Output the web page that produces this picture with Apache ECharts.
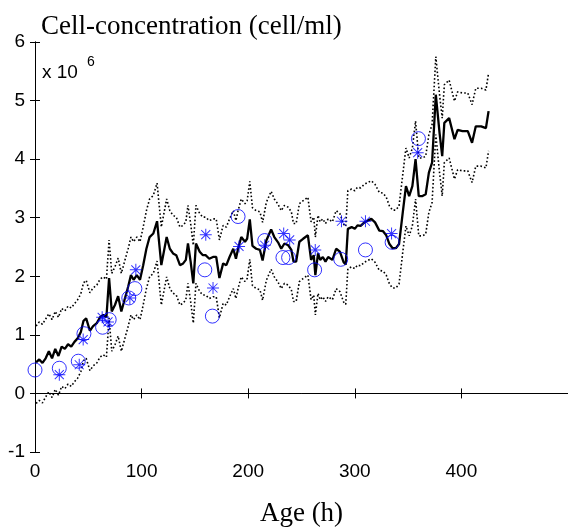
<!DOCTYPE html>
<html>
<head>
<meta charset="utf-8">
<script src="https://cdn.jsdelivr.net/npm/echarts@6/dist/echarts.min.js"></script>
<style>
html,body{margin:0;padding:0;background:#fff;}
#chart{width:568px;height:532px;}
</style>
</head>
<body>
<div id="chart"></div>
<script>
// Age (h) of the model curve samples
const ages = [1,4,7,10,13,16,19,22,25,28,31,34,37,40,43,45.5,48,51.5,54.5,58,61,64,67,69.5,72,75,78,81,84,87.5,90,92.5,95.5,98.5,101.5,104.5,107.5,111,114.5,118.5,123.5,126.5,129.5,132.5,136,139,141.5,143.5,146,148.5,151,154.5,157.5,160,163.5,167,170,173,176.5,179.5,182.5,186,188.5,190.5,193.5,197,199,201.5,204,207.5,211,213.5,217,221.5,224.5,228,231,234,237.5,240.5,242.5,245,248,251.5,256,257.5,259,261.5,263,265.5,267.5,270,272.5,275,279,282.5,286,289.5,291.5,293.5,297,300,302.5,305.5,309,312,315.5,319,323,326.5,329.5,332.5,335.5,338.5,341.5,345,348,351,354,357,360,363.5,366.5,369.5,372.5,376,379.5,382,384,388.5,393.5,396.5,401,406,410,413.5,418.5,423,425.5];
// mean cell concentration (x 10^6 cell/ml)
const meanConc = [0.53,0.58,0.52,0.60,0.72,0.60,0.76,0.64,0.80,0.76,0.84,0.80,0.88,0.94,1.05,1.24,1.28,1.07,1.15,1.20,1.30,1.34,1.30,1.97,1.40,1.51,1.66,1.40,1.60,1.83,2.02,1.94,2.02,1.94,2.19,2.47,2.67,2.73,2.94,2.19,2.67,2.47,2.39,2.36,2.19,2.22,2.28,2.56,2.25,1.88,2.56,2.42,2.36,2.36,2.30,2.33,2.33,1.97,2.22,2.19,2.33,2.47,2.30,2.47,2.67,2.59,2.64,2.97,2.52,2.47,2.45,2.27,2.61,2.80,2.67,2.58,2.47,2.56,2.53,2.45,2.25,2.25,2.59,2.64,2.70,2.67,2.28,2.36,2.02,2.39,2.28,2.33,2.25,2.33,2.28,2.47,2.42,2.24,2.20,2.81,2.84,2.81,2.87,2.86,2.92,2.95,2.98,2.92,2.78,2.77,2.70,2.55,2.48,2.48,2.55,3.09,3.54,3.37,3.54,4.00,3.37,3.37,3.40,3.77,3.94,5.10,4.45,4.05,4.62,4.70,4.34,4.50,4.48,4.48,4.28,4.56,4.56,4.53,4.82];
// upper dotted bound
const upperConc = [1.15,1.22,1.18,1.27,1.36,1.26,1.40,1.30,1.45,1.41,1.49,1.46,1.53,1.60,1.70,1.89,1.93,1.72,1.80,1.85,1.95,1.99,1.95,2.62,2.05,2.16,2.31,2.05,2.25,2.48,2.67,2.59,2.67,2.59,2.84,3.12,3.32,3.38,3.59,2.84,3.32,3.12,3.04,3.01,2.84,2.87,2.93,3.21,2.90,2.53,3.21,3.07,3.01,3.01,2.95,2.98,2.98,2.62,2.87,2.84,2.98,3.12,2.95,3.12,3.32,3.24,3.29,3.62,3.17,3.12,3.10,2.92,3.26,3.45,3.32,3.23,3.12,3.21,3.18,3.10,2.90,2.90,3.24,3.29,3.35,3.32,2.93,3.01,2.67,3.04,2.93,2.98,2.90,2.98,2.93,3.12,3.07,2.89,2.85,3.46,3.49,3.46,3.52,3.51,3.57,3.60,3.63,3.57,3.43,3.42,3.35,3.20,3.13,3.13,3.20,3.74,4.19,4.02,4.19,4.65,4.02,4.02,4.05,4.42,4.59,5.75,5.10,4.70,5.27,5.35,4.99,5.15,5.13,5.13,4.93,5.21,5.21,5.18,5.47];
// lower dotted bound
const lowerConc = [-0.17,-0.12,-0.16,-0.06,0.03,-0.07,0.07,-0.03,0.12,0.08,0.16,0.12,0.20,0.26,0.37,0.56,0.60,0.39,0.47,0.52,0.62,0.66,0.62,1.29,0.72,0.83,0.98,0.72,0.92,1.15,1.34,1.26,1.34,1.26,1.51,1.79,1.99,2.05,2.26,1.51,1.99,1.79,1.71,1.68,1.51,1.54,1.60,1.88,1.57,1.20,1.88,1.74,1.68,1.68,1.62,1.65,1.65,1.29,1.54,1.51,1.65,1.79,1.62,1.79,1.99,1.91,1.96,2.29,1.84,1.79,1.77,1.59,1.93,2.12,1.99,1.90,1.79,1.88,1.85,1.77,1.57,1.57,1.91,1.96,2.02,1.99,1.60,1.68,1.34,1.71,1.60,1.65,1.57,1.65,1.60,1.79,1.74,1.56,1.52,2.13,2.16,2.13,2.19,2.18,2.24,2.27,2.30,2.24,2.10,2.09,2.02,1.87,1.80,1.80,1.87,2.41,2.86,2.69,2.86,3.32,2.69,2.69,2.72,3.09,3.26,4.42,3.77,3.37,3.94,4.02,3.66,3.82,3.80,3.80,3.60,3.88,3.88,3.85,4.14];
// measured samples shown as circles
const circleAges = [0,22.8,40.6,45.9,63.4,69.6,88,93.7,159.3,166.4,190.5,215.5,232.6,237.9,262.3,286.8,310,335,359.7];
const circleConc = [0.40,0.43,0.55,1.02,1.13,1.26,1.63,1.79,2.11,1.32,3.02,2.61,2.32,2.32,2.11,2.29,2.45,2.58,4.35];
// measured samples shown as asterisks
const starAges = [22.8,41.5,45.2,63,68.5,89,94.6,160.2,167,191.4,215.5,233.3,238.9,262.9,287.5,310,334.5,359];
const starConc = [0.32,0.49,0.92,1.30,1.22,1.63,2.11,2.71,1.80,2.51,2.53,2.73,2.62,2.45,2.94,2.94,2.73,4.11];
const xTickLabels = [0,100,200,300,400];

const zip = (a, b) => a.map((v, i) => [v, b[i]]);
const asteriskPath = 'path://M0,11L24,11L24,13L0,13Z M11,0L13,0L13,24L11,24Z M2.3,3.7L3.7,2.3L21.7,20.3L20.3,21.7Z M20.3,2.3L21.7,3.7L3.7,21.7L2.3,20.3Z';

const chart = echarts.init(document.getElementById('chart'), null, {renderer: 'canvas'});
const axisCommon = {
  axisLine: {show: true, lineStyle: {color: '#000', width: 1}},
  axisTick: {show: true, inside: true, length: 5, lineStyle: {color: '#000', width: 1}},
  splitLine: {show: false}
};
chart.setOption({
  animation: false,
  backgroundColor: '#fff',
  title: {
    text: 'Cell-concentration (cell/ml)',
    left: 36, top: 8,
    textStyle: {fontFamily: 'Liberation Serif', fontSize: 27, fontWeight: 'normal', color: '#000'}
  },
  graphic: [
    {type: 'text', left: 42, top: 63, style: {text: 'x 10', font: '19px "Liberation Sans"', fill: '#000'}},
    {type: 'text', left: 87, top: 55, style: {text: '6', font: '14px "Liberation Sans"', fill: '#000'}}
  ],
  grid: {left: 35, right: -1, top: 42, bottom: 76},
  xAxis: [
    Object.assign({}, axisCommon, {
      type: 'value', position: 'bottom', min: 0, max: 500, interval: 100,
      name: 'Age (h)', nameLocation: 'middle', nameGap: 48,
      nameTextStyle: {fontFamily: 'Liberation Serif', fontSize: 27, color: '#000'},
      axisLabel: {customValues: xTickLabels, fontFamily: 'Liberation Sans', fontSize: 19, color: '#000', margin: 10}
    }),
    Object.assign({}, axisCommon, {
      type: 'value', position: 'top', min: 0, max: 500, interval: 100,
      axisLabel: {show: false}
    })
  ],
  yAxis: [
    Object.assign({}, axisCommon, {
      type: 'value', position: 'left', min: -1, max: 6, interval: 1,
      axisLabel: {fontFamily: 'Liberation Sans', fontSize: 19, color: '#000', margin: 10}
    }),
    Object.assign({}, axisCommon, {
      type: 'value', position: 'right', min: -1, max: 6, interval: 1,
      axisLabel: {show: false}
    })
  ],
  series: [
    {type: 'line', data: zip(ages, upperConc), showSymbol: false, symbol: 'none',
     lineStyle: {color: '#000', width: 1.6, type: [1.6, 2.2]}, z: 2},
    {type: 'line', data: zip(ages, lowerConc), showSymbol: false, symbol: 'none',
     lineStyle: {color: '#000', width: 1.6, type: [1.6, 2.2]}, z: 2},
    {type: 'line', data: zip(ages, meanConc), showSymbol: false, symbol: 'none',
     lineStyle: {color: '#000', width: 2.3}, z: 3},
    {type: 'scatter', data: zip(circleAges, circleConc), symbol: 'circle', symbolSize: 14,
     itemStyle: {color: 'rgba(0,0,0,0)', borderColor: '#0000ff', borderWidth: 1}, z: 5, clip: false},
    {type: 'scatter', data: zip(starAges, starConc), symbol: asteriskPath, symbolSize: 12,
     itemStyle: {color: '#0000ff'}, z: 6, clip: false}
  ]
});
</script>
</body>
</html>
